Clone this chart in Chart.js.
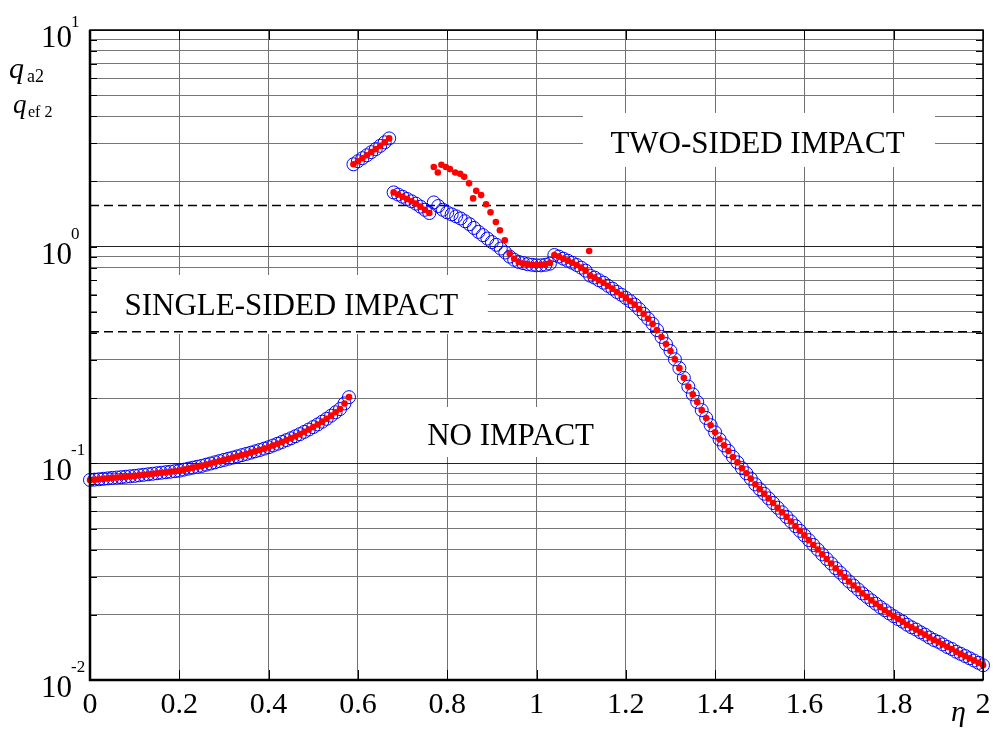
<!DOCTYPE html>
<html><head><meta charset="utf-8">
<script src="https://cdn.jsdelivr.net/npm/chart.js@4/dist/chart.umd.min.js"></script>
<style>html,body{margin:0;padding:0;background:#fff;}#wrap{width:993px;height:731px;position:relative;}</style>
</head><body><div id="wrap"><canvas id="c" width="993" height="731"></canvas></div>
<script>
// ---- DATA ----
const eta = [0.00,0.01,0.02,0.03,0.04,0.05,0.06,0.07,0.08,0.09,0.10,0.11,0.12,0.13,0.14,0.15,0.16,0.17,0.18,0.19,
0.20,0.21,0.22,0.23,0.24,0.25,0.26,0.27,0.28,0.29,0.30,0.31,0.32,0.33,0.34,0.35,0.36,0.37,0.38,0.39,
0.40,0.41,0.42,0.43,0.44,0.45,0.46,0.47,0.48,0.49,0.50,0.51,0.52,0.53,0.54,0.55,0.56,0.57,0.58,0.59,
0.60,0.61,0.62,0.63,0.64,0.65,0.66,0.67,0.68,0.69,0.70,0.71,0.72,0.73,0.74,0.75,0.76,0.77,0.78,0.79,
0.80,0.81,0.82,0.83,0.84,0.85,0.86,0.87,0.88,0.89,0.90,0.91,0.92,0.93,0.94,0.95,0.96,0.97,0.98,0.99,
1.00,1.01,1.02,1.03,1.04,1.05,1.06,1.07,1.08,1.09,1.10,1.11,1.12,1.13,1.14,1.15,1.16,1.17,1.18,1.19,
1.20,1.21,1.22,1.23,1.24,1.25,1.26,1.27,1.28,1.29,1.30,1.31,1.32,1.33,1.34,1.35,1.36,1.37,1.38,1.39,
1.40,1.41,1.42,1.43,1.44,1.45,1.46,1.47,1.48,1.49,1.50,1.51,1.52,1.53,1.54,1.55,1.56,1.57,1.58,1.59,
1.60,1.61,1.62,1.63,1.64,1.65,1.66,1.67,1.68,1.69,1.70,1.71,1.72,1.73,1.74,1.75,1.76,1.77,1.78,1.79,
1.80,1.81,1.82,1.83,1.84,1.85,1.86,1.87,1.88,1.89,1.90,1.91,1.92,1.93,1.94,1.95,1.96,1.97,1.98,1.99,2.00];

// blue open circles (q_a2)
const qa2 = [
.0838,.0841,.0844,.0848,.0852,.0857,.0860,.0863,.0867,.0871,
.0875,.0880,.0885,.0890,.0895,.0900,.0905,.0910,.0915,.0920,
.0925,.0935,.0945,.0955,.0964,.0973,.0986,.0998,.1011,.1024,
.1037,.1050,.1063,.1077,.1091,.1105,.1120,.1136,.1152,.1169,
.1187,.1209,.1231,.1255,.1280,.1305,.1334,.1364,.1397,.1432,
.1470,.1512,.1557,.1605,.1660,.1720,.1780,.1890,.2020,
2.40,2.48,2.56,2.64,2.73,2.82,2.92,3.03,3.16,
1.78,1.74,1.70,1.66,1.62,1.58,1.53,1.48,1.43,
1.60,1.54,1.48,1.44,1.41,1.38,1.35,1.31,1.27,1.22,
1.17,1.13,1.09,1.05,1.02,0.98,0.94,0.90,0.87,0.85,
0.84,0.83,0.825,0.82,0.82,0.825,0.835,
.915,.900,.880,.862,.843,.823,.800,.775,.735,.720,
.700,.682,.660,.640,.618,.600,.580,.560,.540,.515,
.490,.465,.440,.412,.383,.355,.330,.302,.275,.248,
.226,.208,.192,.176,.162,.150,.139,.129,.121,.114,
.107,.101,.095,.090,.085,.080,.076,
.0724,.0689,.0656,.0624,.0594,.0566,.0539,.0513,.0488,.0465,
.0442,.0420,.0400,.0380,.0362,.0345,.0328,.0313,.0299,.0285,
.0273,.0262,.0251,.0242,.0233,.0225,.0217,.0210,.0203,.0197,
.0191,.0186,.0180,.0175,.0171,.0166,.0162,.0157,.0153,.0150,
.0146,.0142,.0139,.0135,.0132,.0129,.0126,.0123,.0120,.0117];

// red filled dots (q_ef2) on the same grid; null where the dots sit on the upper branch
const qef2 = [
.0838,.0841,.0844,.0848,.0852,.0857,.0860,.0863,.0867,.0871,
.0875,.0880,.0885,.0890,.0895,.0900,.0905,.0910,.0915,.0920,
.0925,.0935,.0945,.0955,.0964,.0973,.0986,.0998,.1011,.1024,
.1037,.1050,.1063,.1077,.1091,.1105,.1120,.1136,.1152,.1169,
.1187,.1209,.1231,.1255,.1280,.1305,.1334,.1364,.1397,.1432,
.1470,.1512,.1557,.1605,.1660,.1720,.1780,.1890,.2020,
2.40,2.48,2.56,2.64,2.73,2.82,2.92,3.03,3.16,
1.78,1.74,1.70,1.66,1.62,1.58,1.53,1.48,1.43,
null,null,null,null,null,null,null,null,null,null,
null,null,null,null,null,null,null,
0.93,0.88,0.85,0.835,0.83,0.825,0.825,0.825,0.83,0.84,
.915,.900,.880,.862,.843,.823,.800,.775,.735,.720,
.700,.682,.660,.640,.618,.600,.580,.560,.540,.515,
.490,.465,.440,.412,.383,.355,.330,.302,.275,.248,
.226,.208,.192,.176,.162,.150,.139,.129,.121,.114,
.107,.101,.095,.090,.085,.080,.076,
.0724,.0689,.0656,.0624,.0594,.0566,.0539,.0513,.0488,.0465,
.0442,.0420,.0400,.0380,.0362,.0345,.0328,.0313,.0299,.0285,
.0273,.0262,.0251,.0242,.0233,.0225,.0217,.0210,.0203,.0197,
.0191,.0186,.0180,.0175,.0171,.0166,.0162,.0157,.0153,.0150,
.0146,.0142,.0139,.0135,.0132,.0129,.0126,.0123,.0120,.0117];

// red dots of the upper branch (and one isolated dot)
const etaUp = [0.770,0.779,0.787,0.797,0.806,0.818,0.829,0.838,0.849,0.858,0.865,0.876,0.887,0.897,0.909,0.918,0.929,1.118];
const qUp   = [2.33,2.20,2.39,2.33,2.28,2.20,2.17,2.10,1.96,1.67,1.81,1.73,1.57,1.44,1.30,1.19,1.07,0.955];

// boundary levels (dashed lines)
const boundaryLevels = [1.55, 0.405];

// axis ticks
const xTicks = [0,0.2,0.4,0.6,0.8,1,1.2,1.4,1.6,1.8,2];
const xTickLabels = ['0','0.2','0.4','0.6','0.8','1','1.2','1.4','1.6','1.8','2'];
const yDecadeExp = [1,0,-1,-2];
const yGridValues = [0.01,0.02,0.03,0.04,0.05,0.06,0.07,0.08,0.09,0.1,0.2,0.3,0.4,0.5,0.6,0.7,0.8,0.9,1,2,3,4,5,6,7,8,9,10];

// region labels: [text, centre eta, baseline q, box eta0, box eta1, box qTop, box qBottom]
const regionLabels = [
  ['TWO-SIDED IMPACT', 1.495, 2.70, 1.104, 1.8925, 4.14, 2.333],
  ['SINGLE-SIDED IMPACT', 0.451, 0.484, 0.0157, 0.891, 0.74, 0.395],
  ['NO IMPACT', 0.942, 0.1216, 0.717, 1.169, 0.182, 0.107]
];

// ---- build chart ----
const pts = (xs, ys) => xs.map((v,i)=>({x:v,y:ys[i]})).filter(p=>p.y!==null);
const SERIF = "'Liberation Serif','Times New Roman',serif";

const decor = {
  id:'decor',
  beforeDatasetsDraw(chart){
    const {ctx, chartArea:a, scales:{x,y}} = chart;
    ctx.save();
    ctx.fillStyle = '#fff';
    regionLabels.forEach(r=>{
      const x0 = x.getPixelForValue(r[3]), x1 = x.getPixelForValue(r[4]);
      const y0 = y.getPixelForValue(r[5]), y1 = y.getPixelForValue(r[6]);
      ctx.fillRect(x0, y0, x1-x0, y1-y0);
    });
    ctx.strokeStyle = '#000'; ctx.lineWidth = 1;
    ctx.beginPath();
    xTicks.forEach(v=>{
      const px = Math.round(x.getPixelForValue(v))+0.5;
      ctx.moveTo(px, a.bottom); ctx.lineTo(px, a.bottom-10);
      ctx.moveTo(px, a.top); ctx.lineTo(px, a.top+10);
    });
    yGridValues.forEach(v=>{
      const py = Math.round(y.getPixelForValue(v))+0.5;
      ctx.moveTo(a.left, py); ctx.lineTo(a.left+7, py);
      ctx.moveTo(a.right, py); ctx.lineTo(a.right-7, py);
    });
    ctx.stroke();
    ctx.fillStyle = '#000';
    ctx.font = '31px ' + SERIF;
    ctx.textAlign = 'center'; ctx.textBaseline = 'alphabetic';
    regionLabels.forEach(r=>{
      ctx.fillText(r[0], x.getPixelForValue(r[1]), y.getPixelForValue(r[2]));
    });
    ctx.restore();
  },
  afterDraw(chart){
    const {ctx, chartArea:a, scales:{x,y}} = chart;
    ctx.save();
    ctx.strokeStyle = '#000';
    ctx.lineWidth = 1.5;
    ctx.strokeRect(a.left, a.top, a.right-a.left, a.bottom-a.top);
    ctx.lineWidth = 2.5;
    ctx.beginPath();
    ctx.moveTo(a.left, a.top); ctx.lineTo(a.left, a.bottom); ctx.lineTo(a.right, a.bottom);
    ctx.stroke();
    ctx.fillStyle = '#000';
    ctx.font = '30px ' + SERIF;
    ctx.textAlign = 'center'; ctx.textBaseline = 'alphabetic';
    xTicks.forEach((v,i)=>{
      ctx.fillText(xTickLabels[i], x.getPixelForValue(v), a.bottom+33);
    });
    yDecadeExp.forEach(e=>{
      const py = y.getPixelForValue(Math.pow(10,e));
      ctx.font = '31px ' + SERIF;
      ctx.textAlign = 'right';
      ctx.fillText('10', 72, py+17);
      ctx.font = '17px ' + SERIF;
      ctx.textAlign = 'left';
      ctx.fillText(String(e), 71, Math.max(py-8, 27));
    });
    ctx.textAlign = 'left';
    ctx.font = 'italic 30px ' + SERIF;
    ctx.fillText('\u03B7', 951, 721);
    ctx.fillText('q', 9, 78);
    ctx.font = 'italic 27px ' + SERIF;
    ctx.fillText('q', 13, 113);
    ctx.font = '18px ' + SERIF;
    ctx.fillText('a2', 27, 82);
    ctx.font = '16px ' + SERIF;
    ctx.fillText('ef 2', 28, 117);
    ctx.restore();
  }
};

new Chart(document.getElementById('c'), {
  type: 'scatter',
  data: {
    datasets: [
      { label:'q_ef2', data: pts(eta, qef2).concat(pts(etaUp, qUp)), order:0,
        pointRadius:3.3, pointBackgroundColor:'#ff0000', pointBorderWidth:0, pointBorderColor:'#ff0000', clip:false },
      { label:'q_a2', data: pts(eta, qa2), order:1,
        pointRadius:6.5, pointBackgroundColor:'rgba(0,0,0,0)', pointBorderColor:'#0000ff', pointBorderWidth:1, clip:false },
      ...boundaryLevels.map((lv,i)=>({ label:'boundary'+i, type:'line', data:[{x:0,y:lv},{x:2,y:lv}], order:2,
        showLine:true, borderColor:'#000', borderWidth:1.4, borderDash:[9,5], pointRadius:0, fill:false }))
    ]
  },
  options: {
    responsive:false, animation:false, devicePixelRatio:1,
    layout:{ padding:{ left:90, top:30, right:10, bottom:51 } },
    plugins:{ legend:{display:false}, tooltip:{enabled:false} },
    scales:{
      x:{ type:'linear', min:0, max:2,
          afterBuildTicks: s => { s.ticks = xTicks.map(v=>({value:v})); },
          ticks:{ display:false },
          grid:{ drawTicks:false, color:'#6f6f6f', lineWidth:1 },
          border:{ display:false } },
      y:{ type:'logarithmic', min:0.01, max:10,
          afterBuildTicks: s => { s.ticks = yGridValues.map(v=>({value:v})); },
          ticks:{ display:false },
          grid:{ drawTicks:false, lineWidth:1,
                 color: c => { const v=c.tick && c.tick.value; const l=Math.log10(v); return Math.abs(l-Math.round(l))<1e-6 ? '#222' : '#777'; } },
          border:{ display:false } }
    }
  },
  plugins:[decor]
});
</script></body></html>
